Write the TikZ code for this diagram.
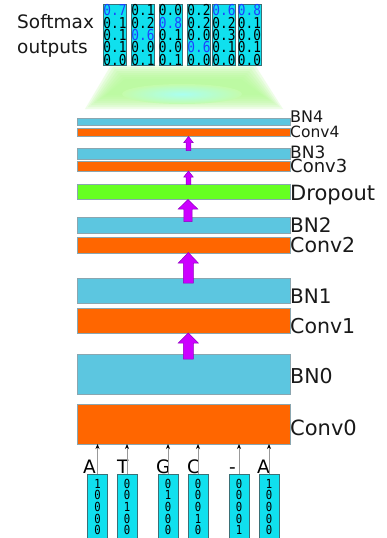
\documentclass[tikz,border=0pt]{standalone}
\usepackage{fontspec}
\usepackage{graphicx}
\setmainfont{DejaVu Sans}
\setmonofont{DejaVu Sans Mono}
\usetikzlibrary{arrows.meta,calc}
\definecolor{convc}{HTML}{FF6600}
\definecolor{bnc}{HTML}{5CC6E0}
\definecolor{dropc}{HTML}{66FF22}
\definecolor{arrc}{HTML}{CC00FF}
\definecolor{arrb}{HTML}{9000C0}
\definecolor{cellc}{HTML}{10E0EE}
\definecolor{cellb}{HTML}{3A7076}
\definecolor{hic}{HTML}{1E40FF}
\definecolor{layb}{HTML}{8AA6B0}
\definecolor{glowg}{RGB}{180,250,150}
\definecolor{glowe}{RGB}{196,252,172}
\definecolor{glowc}{RGB}{170,255,240}
\newcommand{\fatarrow}[6]{%
  \draw[fatarr] (#1,#2) -- (#1+#5,#3) -- (#1+#6,#3) -- (#1+#6,#4) -- (#1-#6,#4) -- (#1-#6,#3) -- (#1-#5,#3) -- cycle;}
\newcommand{\smcol}[3]{%
  \node[cell, minimum width=23pt, minimum height=61pt, anchor=north] (#1) at (#2,4) {};
  \foreach \c/\v [count=\i] in {#3} {
    \node[smtxt, text=\c] (#1-\i) at (#2,16+12.25*\i-12.25) {\scalebox{0.85}[1]{\v}};
  }}
\newcommand{\incol}[5]{%
  \node[cell, minimum width=20pt, minimum height=72pt, anchor=north] (#1) at (#2,474) {};
  \foreach \v [count=\i] in {#3} {
    \node[indig] (#1-\i) at (#2,488+11.7*\i-11.7) {\scalebox{0.85}[1]{\v}};
  }
  \node[letter] (#1-l) at (#4,473) {#5};
  \draw[inarr] (#1.north) -- (#1.north |- conv0.south);}
\begin{document}
\begin{tikzpicture}[x=1pt,y=-1pt,
  layer/.style={draw=layb, line width=0.6pt, minimum width=213pt, inner sep=0pt, outer sep=0pt},
  lab/.style={anchor=base west, inner sep=0pt, text=black!90},
  fatarr/.style={fill=arrc, draw=arrb, line width=0.5pt, line join=miter},
  cell/.style={fill=cellc, draw=cellb, line width=0.6pt, inner sep=0pt, outer sep=0pt},
  smtxt/.style={anchor=base, inner sep=0pt, font=\ttfamily\fontsize{15}{15}\selectfont},
  indig/.style={anchor=base, inner sep=0pt, font=\ttfamily\fontsize{12.5}{12.5}\selectfont},
  letter/.style={anchor=base west, inner sep=0pt, font=\fontsize{18.5}{18.5}\selectfont},
  inarr/.style={draw=black!40, line width=0.8pt, -{Stealth[length=5pt,width=4pt,black]}},
]
\useasboundingbox (0,0) rectangle (386,538);
\fill[white] (0,0) rectangle (386,538);

% glow
\foreach \d in {-2,0,2,4,6,8,10,12} {
  \fill[glowg, fill opacity=0.22] (113+\d,67+\d) -- (253-\d,67+\d) -- (280-1.5*\d,107-\d) -- (88+1.5*\d,107-\d) -- cycle;
}
\shade[inner color=glowc, outer color=glowe] (182,94) ellipse [x radius=60, y radius=10];

% softmax outputs
\node[lab, font=\fontsize{18.5}{18.5}\selectfont] (smt1) at (17,28) {Softmax};
\node[lab, font=\fontsize{18.5}{18.5}\selectfont] (smt2) at (17,53) {outputs};
\smcol{c1}{115}{hic/0.7,black/0.1,black/0.1,black/0.1,black/0.0}
\smcol{c2}{143}{black/0.1,black/0.2,hic/0.6,black/0.0,black/0.1}
\smcol{c3}{170.5}{black/0.0,hic/0.8,black/0.1,black/0.0,black/0.1}
\smcol{c4}{199}{black/0.2,black/0.2,black/0.0,hic/0.6,black/0.0}
\smcol{c5}{224}{hic/0.6,black/0.2,black/0.3,black/0.1,black/0.0}
\smcol{c6}{249.5}{hic/0.8,black/0.1,black/0.0,black/0.1,black/0.0}

% layers
\node[layer, fill=bnc, minimum height=7.5pt] (bn4) at (183.5,121.75) {};
\node[layer, fill=convc, minimum height=8pt] (conv4) at (183.5,132) {};
\node[layer, fill=bnc, minimum height=11pt] (bn3) at (183.5,153.5) {};
\node[layer, fill=convc, minimum height=10pt] (conv3) at (183.5,166) {};
\node[layer, fill=dropc, minimum height=15.5pt] (drop) at (183.5,191.75) {};
\node[layer, fill=bnc, minimum height=16pt] (bn2) at (183.5,225) {};
\node[layer, fill=convc, minimum height=16pt] (conv2) at (183.5,245) {};
\node[layer, fill=bnc, minimum height=25pt] (bn1) at (183.5,290.5) {};
\node[layer, fill=convc, minimum height=25pt] (conv1) at (183.5,320.5) {};
\node[layer, fill=bnc, minimum height=40pt] (bn0) at (183.5,374) {};
\node[layer, fill=convc, minimum height=40pt] (conv0) at (183.5,424) {};

% labels
\node[lab, font=\fontsize{16}{16}\selectfont] (lbn4) at (290,122) {BN4};
\node[lab, font=\fontsize{15.5}{15.5}\selectfont] (lconv4) at (290,137) {Conv4};
\node[lab, font=\fontsize{17}{17}\selectfont] (lbn3) at (290,158) {BN3};
\node[lab, font=\fontsize{18}{18}\selectfont] (lconv3) at (290,172) {Conv3};
\node[lab, font=\fontsize{21}{21}\selectfont] (ldrop) at (290,200) {Dropout};
\node[lab, font=\fontsize{20}{20}\selectfont] (lbn2) at (290,232) {BN2};
\node[lab, font=\fontsize{20.5}{20.5}\selectfont] (lconv2) at (290,252.5) {Conv2};
\node[lab, font=\fontsize{20}{20}\selectfont] (lbn1) at (290,303) {BN1};
\node[lab, font=\fontsize{20.5}{20.5}\selectfont] (lconv1) at (290,333) {Conv1};
\node[lab, font=\fontsize{20.5}{20.5}\selectfont] (lbn0) at (290,383) {BN0};
\node[lab, font=\fontsize{21}{21}\selectfont] (lconv0) at (290,435) {Conv0};

% fat arrows
\fatarrow{188.5}{136.5}{142.5}{150.5}{4.7}{2.3}
\fatarrow{188.5}{171}{177}{184.5}{4.7}{2.3}
\fatarrow{188}{199.5}{209}{221.5}{9.7}{4.2}
\fatarrow{188.3}{252.5}{263}{283}{10}{5}
\fatarrow{188.3}{333}{343}{359}{10}{5}

% inputs
\incol{i1}{97.5}{1,0,0,0,0}{83}{A}
\incol{i2}{127}{0,0,1,0,0}{117}{T}
\incol{i3}{168}{0,1,0,0,0}{156}{G}
\incol{i4}{198}{0,0,0,1,0}{187}{C}
\incol{i5}{239}{0,0,0,0,1}{229}{-}
\incol{i6}{269}{1,0,0,0,0}{257}{A}
\end{tikzpicture}
\end{document}
